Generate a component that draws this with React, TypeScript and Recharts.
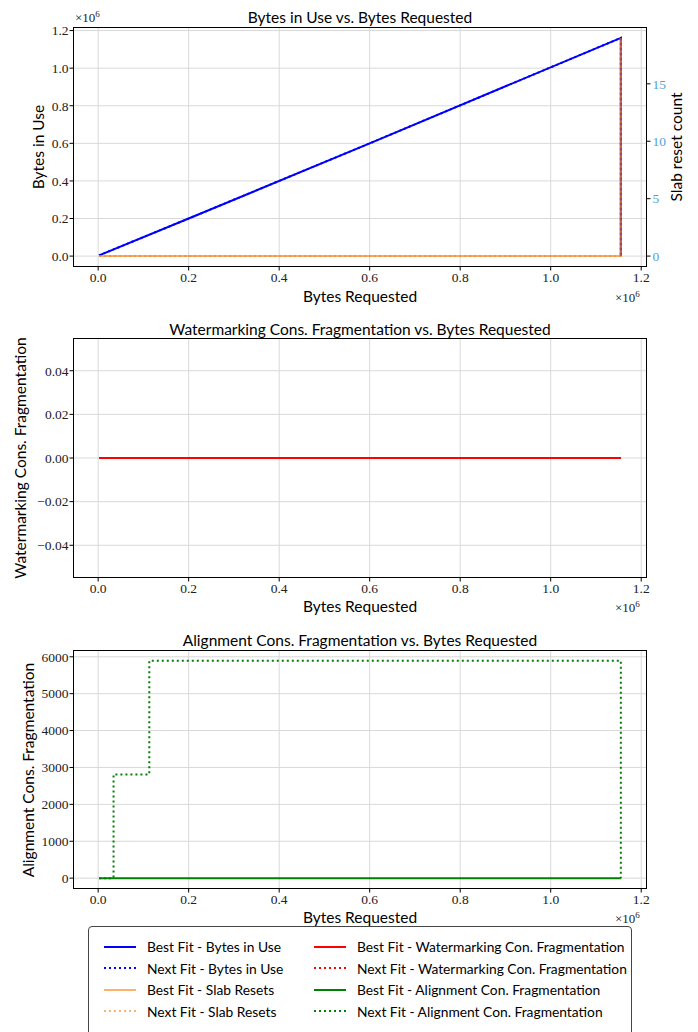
import React from "react";
import { LineChart, Line, XAxis, YAxis, CartesianGrid } from "recharts";

// bytes requested (x) for each trace
const reqLinear = [2048, 200000, 600000, 1155000, 1155000];
const bytesInUse = [4000, 200000, 600000, 1161000, 0];

const reqFlat = [2048, 1155000, 1155000];
const slabResets = [0, 0, 19];

const wmBest = [0, 0];
const wmNext = [0, 0];
const reqWm = [2048, 1155000];

const reqAlign = [2048, 34000, 113000, 1155000];
const alignBest = [0, 0, 0, 0];
const alignNext = [0, 2810, 5890, 0];

const xTicks = [0, 200000, 400000, 600000, 800000, 1000000, 1200000];
const bytesTicks = [0, 200000, 400000, 600000, 800000, 1000000, 1200000];
const slabTicks = [0, 5, 10, 15];
const wmTicks = [-0.04, -0.02, 0, 0.02, 0.04];
const alignTicks = [0, 1000, 2000, 3000, 4000, 5000, 6000];

const legendItems = [
  { label: "Best Fit - Bytes in Use", color: "#0000ff", dotted: false, op: 1 },
  { label: "Next Fit - Bytes in Use", color: "#0000ff", dotted: true, op: 1 },
  { label: "Best Fit - Slab Resets", color: "#ff7f0e", dotted: false, op: 0.6 },
  { label: "Next Fit - Slab Resets", color: "#ff7f0e", dotted: true, op: 0.6 },
  { label: "Best Fit - Watermarking Con. Fragmentation", color: "#ff0000", dotted: false, op: 1 },
  { label: "Next Fit - Watermarking Con. Fragmentation", color: "#ff0000", dotted: true, op: 1 },
  { label: "Best Fit - Alignment Con. Fragmentation", color: "#008000", dotted: false, op: 1 },
  { label: "Next Fit - Alignment Con. Fragmentation", color: "#008000", dotted: true, op: 1 },
];

const zip = (xs: number[], ys: number[]) => xs.map((x, i) => ({ x, y: ys[i] }));

const SERIF = "'Liberation Serif', serif";
const SANS = "Lato, 'Open Sans', sans-serif";
const DOT = "2 3";
const XDOMAIN: [number, number] = [-55600, 1212800];

const tickStyle = { fontFamily: SERIF, fontSize: 13.5, fill: "#222" };
const fmtX = (v: number) => (v / 1e6).toFixed(1);
const fmtMinus = (v: number) => (v < 0 ? "\u2212" + Math.abs(v).toFixed(2) : v.toFixed(2));

const abs = (left: number, top: number, extra: React.CSSProperties = {}): React.CSSProperties => ({
  position: "absolute",
  left,
  top,
  whiteSpace: "nowrap",
  ...extra,
});

const Title = ({ text, top }: { text: string; top: number }) => (
  <div style={abs(73, top, { width: 574, textAlign: "center", fontFamily: SANS, fontSize: 15.5, lineHeight: "16px" })}>
    {text}
  </div>
);

const XLabel = ({ top }: { top: number }) => (
  <>
    <div style={abs(73, top, { width: 574, textAlign: "center", fontFamily: SANS, fontSize: 15.5, lineHeight: "16px" })}>
      Bytes Requested
    </div>
    <div style={abs(615, top + 1, { fontFamily: SERIF, fontSize: 13, color: "#222" })}>
      {"\u00d7"}10<sup style={{ fontSize: 9 }}>6</sup>
    </div>
  </>
);

const YLabel = ({ text, cx, cy }: { text: string; cx: number; cy: number }) => (
  <div
    style={abs(cx, cy, {
      transform: "translate(-50%, -50%) rotate(-90deg)",
      fontFamily: SANS,
      fontSize: 15.5,
      lineHeight: "16px",
    })}
  >
    {text}
  </div>
);

const Frame = ({ top, height }: { top: number; height: number }) => (
  <div
    style={abs(73, top, {
      width: 574,
      height,
      border: "1.3px solid #000",
      boxSizing: "border-box",
      pointerEvents: "none",
    })}
  />
);

const xAxis = (
  <XAxis
    dataKey="x"
    type="number"
    domain={XDOMAIN}
    ticks={xTicks}
    tickFormatter={fmtX}
    allowDataOverflow
    axisLine={false}
    tickSize={3.5}
    tickMargin={2}
    height={30}
    tick={tickStyle}
    tickLine={{ stroke: "#000" }}
  />
);

const App = () => {
  return (
    <div style={{ position: "absolute", left: 0, top: 0, width: 698, height: 1032, background: "#fff", overflow: "hidden" }}>
      {/* plot 1 */}
      <div style={abs(0, 0)}>
        <LineChart width={698} height={310} margin={{ top: 27, right: 21, bottom: 13, left: 33 }}>
          <CartesianGrid yAxisId="left" stroke="#d9d9d9" strokeWidth={1} horizontalValues={bytesTicks} verticalValues={xTicks} />
          {xAxis}
          <YAxis
            yAxisId="left"
            type="number"
            domain={[-58000, 1219000]}
            ticks={bytesTicks}
            tickFormatter={fmtX}
            allowDataOverflow
            axisLine={false}
            width={40}
            tickSize={3.5}
            tickMargin={1}
            tick={tickStyle}
            tickLine={{ stroke: "#000" }}
          />
          <YAxis
            yAxisId="right"
            orientation="right"
            type="number"
            domain={[-0.95, 19.95]}
            ticks={slabTicks}
            allowDataOverflow
            axisLine={false}
            width={30}
            tickSize={3.5}
            tickMargin={2}
            tick={{ ...tickStyle, fill: "#4f9fd8" }}
            tickLine={{ stroke: "#000" }}
          />
          <Line yAxisId="left" data={zip(reqLinear, bytesInUse)} dataKey="y" stroke="#0000ff" strokeWidth={2} dot={false} isAnimationActive={false} />
          <Line yAxisId="left" data={zip(reqLinear, bytesInUse)} dataKey="y" stroke="#0000ff" strokeWidth={2} strokeDasharray={DOT} dot={false} isAnimationActive={false} />
          <Line yAxisId="right" data={zip(reqFlat, slabResets)} dataKey="y" stroke="#ff7f0e" strokeOpacity={0.6} strokeWidth={2} dot={false} isAnimationActive={false} />
          <Line yAxisId="right" data={zip(reqFlat, slabResets)} dataKey="y" stroke="#ff7f0e" strokeOpacity={0.6} strokeWidth={2} strokeDasharray={DOT} dot={false} isAnimationActive={false} />
        </LineChart>
      </div>
      <Frame top={27} height={240} />
      <Title text="Bytes in Use vs. Bytes Requested" top={9} />
      <div style={abs(75, 9, { fontFamily: SERIF, fontSize: 13, color: "#222" })}>
        {"\u00d7"}10<sup style={{ fontSize: 9 }}>6</sup>
      </div>
      <XLabel top={288} />
      <YLabel text="Bytes in Use" cx={38} cy={147} />
      <YLabel text="Slab reset count" cx={676} cy={147} />

      {/* plot 2 */}
      <div style={abs(0, 310)}>
        <LineChart width={698} height={310} margin={{ top: 28, right: 51, bottom: 12, left: 33 }}>
          <CartesianGrid stroke="#d9d9d9" strokeWidth={1} horizontalValues={wmTicks} verticalValues={xTicks} />
          {xAxis}
          <YAxis
            type="number"
            domain={[-0.055, 0.055]}
            ticks={wmTicks}
            tickFormatter={fmtMinus}
            allowDataOverflow
            axisLine={false}
            width={40}
            tickSize={3.5}
            tickMargin={1}
            tick={tickStyle}
            tickLine={{ stroke: "#000" }}
          />
          <Line data={zip(reqWm, wmBest)} dataKey="y" stroke="#ff0000" strokeWidth={2} dot={false} isAnimationActive={false} />
          <Line data={zip(reqWm, wmNext)} dataKey="y" stroke="#ff0000" strokeWidth={2} strokeDasharray={DOT} dot={false} isAnimationActive={false} />
        </LineChart>
      </div>
      <Frame top={338} height={240} />
      <Title text="Watermarking Cons. Fragmentation vs. Bytes Requested" top={321} />
      <XLabel top={598} />
      <YLabel text="Watermarking Cons. Fragmentation" cx={20} cy={458} />

      {/* plot 3 */}
      <div style={abs(0, 620)}>
        <LineChart width={698} height={310} margin={{ top: 30, right: 51, bottom: 11, left: 33 }}>
          <CartesianGrid stroke="#d9d9d9" strokeWidth={1} horizontalValues={alignTicks} verticalValues={xTicks} />
          {xAxis}
          <YAxis
            type="number"
            domain={[-294, 6184]}
            ticks={alignTicks}
            allowDataOverflow
            axisLine={false}
            width={40}
            tickSize={3.5}
            tickMargin={1}
            tick={tickStyle}
            tickLine={{ stroke: "#000" }}
          />
          <Line type="stepAfter" data={zip(reqAlign, alignBest)} dataKey="y" stroke="#008000" strokeWidth={2} dot={false} isAnimationActive={false} />
          <Line type="stepAfter" data={zip(reqAlign, alignNext)} dataKey="y" stroke="#008000" strokeWidth={2} strokeDasharray={DOT} dot={false} isAnimationActive={false} />
        </LineChart>
      </div>
      <Frame top={650} height={239} />
      <Title text="Alignment Cons. Fragmentation vs. Bytes Requested" top={632} />
      <XLabel top={909} />
      <YLabel text="Alignment Cons. Fragmentation" cx={28} cy={770} />

      {/* legend */}
      <div
        style={abs(88, 926, {
          width: 544,
          height: 120,
          border: "1px solid #444",
          borderRadius: 4,
          background: "#fff",
          boxSizing: "border-box",
        })}
      >
        {legendItems.map((it, i) => {
          const col = Math.floor(i / 4);
          const row = i % 4;
          return (
            <div key={it.label} style={abs(col === 0 ? 14 : 224, 11 + row * 21.5, { display: "flex", alignItems: "center", fontFamily: SANS, fontSize: 13.8 })}>
              <svg width={34} height={10} style={{ marginRight: 10 }}>
                <line
                  x1={1}
                  y1={5}
                  x2={33}
                  y2={5}
                  stroke={it.color}
                  strokeOpacity={it.op}
                  strokeWidth={2}
                  strokeDasharray={it.dotted ? DOT : undefined}
                />
              </svg>
              <span>{it.label}</span>
            </div>
          );
        })}
      </div>
    </div>
  );
};

export default App;
